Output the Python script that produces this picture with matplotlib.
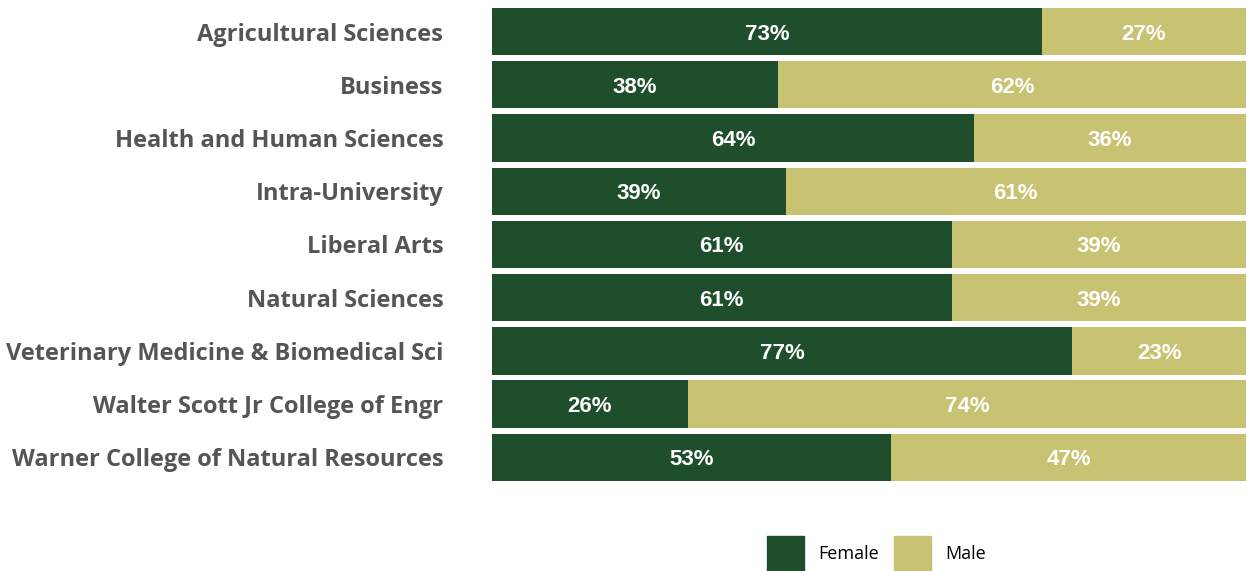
import matplotlib
matplotlib.use("Agg")
import matplotlib.pyplot as plt
from matplotlib.patches import Patch

categories = ["Agricultural Sciences", "Business", "Health and Human Sciences",
              "Intra-University", "Liberal Arts", "Natural Sciences",
              "Veterinary Medicine & Biomedical Sci", "Walter Scott Jr College of Engr",
              "Warner College of Natural Resources"]
female = [73, 38, 64, 39, 61, 61, 77, 26, 53]
male = [27, 62, 36, 61, 39, 39, 23, 74, 47]

c_f = "#1F4E2C"
c_m = "#C8C373"

fig = plt.figure(figsize=(12.47, 5.71), dpi=100)
ax = fig.add_axes([0.3945, 0.1524, 0.6045, 0.839])
y = list(range(len(categories)))
ax.barh(y, female, height=0.89, color=c_f)
ax.barh(y, male, left=female, height=0.89, color=c_m)
for i in y:
    ax.text(female[i] / 2, i, f"{female[i]}%", ha="center", va="center_baseline", color="white",
            fontsize=16, fontweight="bold", family="Liberation Sans")
    ax.text(female[i] + male[i] / 2, i, f"{male[i]}%", ha="center", va="center_baseline", color="white",
            fontsize=16, fontweight="bold", family="Liberation Sans")
ax.set_xlim(0, 100)
ax.set_ylim(8.5, -0.5)
ax.set_yticks(y)
ax.set_yticklabels(categories, fontsize=17, fontweight="bold", color="#555555", family="Open Sans")
ax.tick_params(axis="y", length=0, pad=35)
ax.set_xticks([])
for s in ax.spines.values():
    s.set_visible(False)

handles = [Patch(color=c_f, label="Female"), Patch(color=c_m, label="Male")]
fig.legend(handles=handles, loc="center", bbox_to_anchor=(0.703, 0.030), ncol=2, frameon=False,
           prop={"family": "Open Sans", "size": 13}, handlelength=2.05, handleheight=2.6,
           handletextpad=0.8, columnspacing=0.8, borderpad=0)
fig.savefig("out.png", dpi=100)
